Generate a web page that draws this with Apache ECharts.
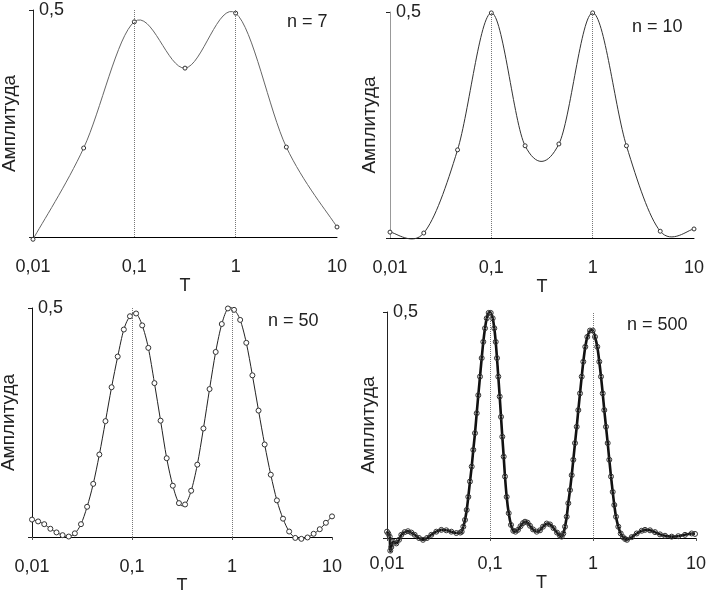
<!DOCTYPE html>
<html>
<head>
<meta charset="utf-8">
<script src="https://cdn.jsdelivr.net/npm/echarts@6/dist/echarts.min.js"></script>
<style>
html, body { margin: 0; padding: 0; background: #fff; }
#chart { width: 709px; height: 590px; }
</style>
</head>
<body>
<div id="chart"></div>
<script>
// T values (log spaced) and amplitudes
var t7 = [0.01, 0.031623, 0.1, 0.31623, 1, 3.1623, 10];
var a7 = [-0.005, 0.196, 0.474, 0.372, 0.493, 0.198, 0.022];

var t10 = [0.01, 0.021544, 0.046416, 0.1, 0.21544, 0.46416, 1, 2.1544, 4.6416, 10];
var a10 = [0.013, 0.011, 0.195, 0.498, 0.204, 0.208, 0.498, 0.204, 0.015, 0.02];

var t50 = [0.01, 0.011514, 0.013257, 0.015264, 0.017575, 0.020236, 0.0233, 0.026827, 0.030888, 0.035565,
    0.040949, 0.047149, 0.054287, 0.062506, 0.071969, 0.082864, 0.09541, 0.10985, 0.12649, 0.14563,
    0.16768, 0.19307, 0.2223, 0.25595, 0.2947, 0.33932, 0.39069, 0.44984, 0.51795, 0.59636,
    0.68665, 0.7906, 0.91029, 1.0481, 1.2068, 1.3895, 1.5999, 1.8421, 2.121, 2.4421,
    2.8118, 3.2375, 3.7276, 4.2919, 4.9417, 5.6899, 6.5513, 7.5431, 8.6851, 10];
var a50 = [0.038, 0.034, 0.028, 0.018, 0.010, 0.004, 0.001, 0.008, 0.028, 0.066,
    0.116, 0.180, 0.253, 0.327, 0.394, 0.453, 0.482, 0.488, 0.462, 0.413,
    0.336, 0.254, 0.172, 0.112, 0.074, 0.071, 0.101, 0.158, 0.237, 0.323,
    0.404, 0.465, 0.499, 0.496, 0.474, 0.424, 0.353, 0.276, 0.202, 0.136,
    0.080, 0.040, 0.012, -0.002, -0.004, -0.001, 0.007, 0.017, 0.031, 0.045];

var t500 = [0.01, 0.01029, 0.01062, 0.01076, 0.01101, 0.01143, 0.01231, 0.01308, 0.01377, 0.01485,
    0.01599, 0.01722, 0.01857, 0.02045, 0.02236, 0.02445, 0.02692, 0.0301, 0.03367, 0.03765,
    0.0421, 0.04708, 0.05149, 0.05312, 0.05506, 0.05719, 0.0594, 0.06156, 0.06394, 0.06642,
    0.06884, 0.07151, 0.07428, 0.07699, 0.07997, 0.08307, 0.0861, 0.08944, 0.0929, 0.09714,
    0.1016, 0.1062, 0.1101, 0.1136, 0.1169, 0.1204, 0.1242, 0.1279, 0.1317, 0.1358,
    0.1398, 0.1452, 0.1519, 0.1599, 0.1683, 0.1768, 0.187, 0.1978, 0.2092, 0.2187,
    0.2313, 0.2445, 0.2616, 0.284, 0.3057, 0.327, 0.3553, 0.3824, 0.4135, 0.4472,
    0.4782, 0.4967, 0.5149, 0.5348, 0.5555, 0.5757, 0.598, 0.6212, 0.644, 0.6689,
    0.6948, 0.7202, 0.7481, 0.777, 0.8052, 0.842, 0.8806, 0.9352, 0.9934, 1.0457,
    1.1008, 1.1513, 1.1959, 1.2423, 1.2874, 1.3372, 1.389, 1.4397, 1.4955, 1.5535,
    1.6099, 1.6723, 1.7604, 1.8571, 1.9552, 2.0445, 2.138, 2.3756, 2.6564, 2.9709,
    3.1984, 3.5761, 3.9983, 4.4718, 5.0, 5.8076, 6.7328, 7.8199, 9.0846, 9.78];
var a500 = [0.014, 0.010, 0.003, -0.028, -0.020, -0.008, -0.012, -0.004, 0.007, 0.013,
    0.015, 0.012, 0.007, 0.000, -0.004, 0.000, 0.007, 0.014, 0.018, 0.017,
    0.014, 0.011, 0.012, 0.014, 0.025, 0.040, 0.062, 0.091, 0.125, 0.158,
    0.195, 0.232, 0.276, 0.316, 0.357, 0.398, 0.434, 0.464, 0.486, 0.498,
    0.498, 0.486, 0.464, 0.434, 0.398, 0.357, 0.313, 0.268, 0.224, 0.180,
    0.136, 0.091, 0.055, 0.029, 0.016, 0.014, 0.018, 0.026, 0.033, 0.036,
    0.034, 0.027, 0.019, 0.014, 0.017, 0.025, 0.032, 0.030, 0.022, 0.012,
    0.005, 0.003, 0.010, 0.025, 0.047, 0.077, 0.106, 0.139, 0.173, 0.210,
    0.246, 0.283, 0.320, 0.357, 0.390, 0.423, 0.445, 0.459, 0.459, 0.445,
    0.423, 0.390, 0.357, 0.320, 0.283, 0.246, 0.210, 0.173, 0.136, 0.102,
    0.073, 0.047, 0.025, 0.010, 0.002, -0.002, -0.004, 0.002, 0.010, 0.016,
    0.018, 0.017, 0.013, 0.008, 0.005, 0.003, 0.004, 0.007, 0.010, 0.009];

var xTickLabels = ['0,01', '0,1', '1', '10'];
var yTopLabel = '0,5';
var guideT = [0.1, 1];
var panelTitles = ['n = 7', 'n = 10', 'n = 50', 'n = 500'];

var FONT = 'Liberation Sans, Arial, sans-serif';

function zip(t, a) {
    var out = [];
    for (var i = 0; i < t.length; i++) out.push([t[i], a[i]]);
    return out;
}

// panel layout: grid box, label offsets, styles
var panels = [
    { t: t7, a: a7, grid: { left: 33, top: 10, width: 304, height: 227 }, nameGap: 14, labelMargin: 21, tGap: 28,
      yColor: '#222', lineColor: '#666', lineWidth: 1, sym: 4, symFill: '#fff', title: { left: 287, top: 13 }, xTicks: false },
    { t: t10, a: a10, grid: { left: 390, top: 12, width: 304, height: 226 }, nameGap: 11, labelMargin: 21, tGap: 28,
      yColor: '#999', lineColor: '#333', lineWidth: 1, sym: 4, symFill: '#fff', title: { left: 632, top: 18 }, xTicks: false },
    { t: t50, a: a50, grid: { left: 32, top: 308, width: 300, height: 229 }, nameGap: 14, labelMargin: 21, tGap: 27,
      yColor: '#111', lineColor: '#222', lineWidth: 1, sym: 5, symFill: '#fff', title: { left: 268, top: 312 }, xTicks: true },
    { t: t500, a: a500, grid: { left: 387, top: 312, width: 309, height: 226 }, nameGap: 9, labelMargin: 17, tGap: 33,
      yColor: '#222', lineColor: '#111', lineWidth: 2.6, sym: 5, symFill: 'rgba(255,255,255,0)', title: { left: 627, top: 316 }, xTicks: true }
];

// Excel-like smoothed segment (Catmull-Rom as cubic bezier) ending at dataIndex
function makeRenderer(p) {
    return function (params, api) {
        var i = params.dataIndex;
        if (i === 0) return null;
        var n = p.t.length;
        function pt(k) {
            k = Math.max(0, Math.min(n - 1, k));
            return api.coord([p.t[k], p.a[k]]);
        }
        var p0 = pt(i - 2), p1 = pt(i - 1), p2 = pt(i), p3 = pt(i + 1);
        return {
            type: 'bezierCurve',
            shape: {
                x1: p1[0], y1: p1[1], x2: p2[0], y2: p2[1],
                cpx1: p1[0] + (p2[0] - p0[0]) / 6, cpy1: p1[1] + (p2[1] - p0[1]) / 6,
                cpx2: p2[0] - (p3[0] - p1[0]) / 6, cpy2: p2[1] - (p3[1] - p1[1]) / 6
            },
            style: { stroke: p.lineColor, lineWidth: p.lineWidth, fill: null }
        };
    };
}

var option = {
    animation: false,
    backgroundColor: '#fff',
    title: [], grid: [], xAxis: [], yAxis: [], series: []
};

panels.forEach(function (p, i) {
    option.grid.push({
        left: p.grid.left, top: p.grid.top, width: p.grid.width, height: p.grid.height,
        containLabel: false, outerBoundsMode: 'none'
    });
    option.title.push({
        text: panelTitles[i], left: p.title.left, top: p.title.top, padding: 0,
        textStyle: { fontFamily: FONT, fontSize: 18, fontWeight: 'normal', color: '#222' }
    });
    option.xAxis.push({
        type: 'log', logBase: 10, min: 0.01, max: 10, gridIndex: i,
        name: 'T', nameLocation: 'middle', nameGap: p.tGap,
        nameTextStyle: { fontFamily: FONT, fontSize: 18, color: '#222' },
        axisLine: { onZero: false, lineStyle: { color: '#000', width: 1 } },
        axisTick: { show: p.xTicks, length: 3, lineStyle: { color: '#555' } },
        splitLine: { show: false },
        axisLabel: {
            margin: p.labelMargin, fontFamily: FONT, fontSize: 18, color: '#222',
            formatter: function (v) { return xTickLabels[Math.round(Math.log10(v)) + 2]; }
        }
    });
    option.yAxis.push({
        type: 'value', min: 0, max: 0.5, interval: 0.5, gridIndex: i,
        name: 'Амплитуда', nameLocation: 'middle', nameGap: p.nameGap, nameRotate: 90,
        nameTextStyle: { fontFamily: FONT, fontSize: 19, color: '#222' },
        axisLine: { show: true, onZero: false, lineStyle: { color: p.yColor, width: 1 } },
        axisTick: { show: true, length: 4, lineStyle: { color: '#222' } },
        splitLine: { show: false },
        axisLabel: {
            inside: true, margin: 6, fontFamily: FONT, fontSize: 18, color: '#222',
            formatter: function (v) { return v === 0.5 ? yTopLabel : ''; }
        }
    });
    var pts = zip(p.t, p.a);
    option.series.push({
        type: 'custom', xAxisIndex: i, yAxisIndex: i,
        data: pts, encode: { x: 0, y: 1 },
        renderItem: makeRenderer(p),
        silent: true, z: 2
    });
    option.series.push({
        type: 'scatter', xAxisIndex: i, yAxisIndex: i,
        data: pts,
        symbol: 'circle', symbolSize: p.sym,
        clip: false,
        itemStyle: { color: p.symFill, borderColor: '#333', borderWidth: 1, opacity: 1 },
        z: 3,
        markLine: {
            silent: true, symbol: 'none',
            label: { show: false },
            lineStyle: { type: 'dotted', color: '#777', width: 1 },
            data: guideT.map(function (g) { return { xAxis: g }; })
        }
    });
});

var chart = echarts.init(document.getElementById('chart'));
chart.setOption(option);
</script>
</body>
</html>
